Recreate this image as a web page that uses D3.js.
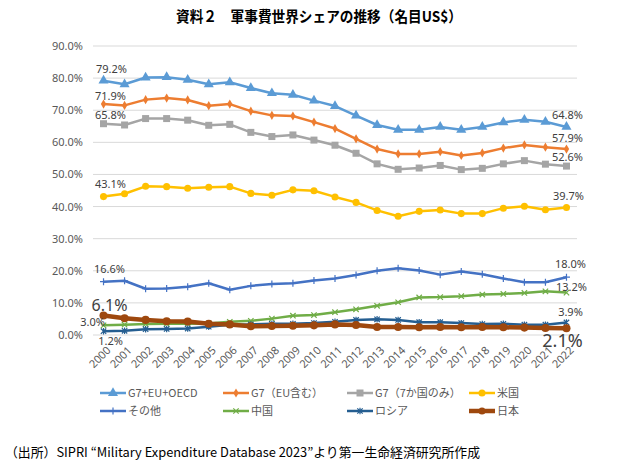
<!DOCTYPE html>
<html>
<head>
<meta charset="utf-8">
<script src="https://cdn.jsdelivr.net/npm/d3@7"></script>
<style>
  body { margin: 0; background: #fff; }
  svg { display: block; }
</style>
</head>
<body>
<svg id="chart" width="631" height="461"></svg>
<script>
// Chart data (shares in %).
const years = d3.range(2000, 2023).map(String);
const seriesNames = ["G7+EU+OECD", "G7（EU含む）", "G7（7か国のみ）", "米国", "その他", "中国", "ロシア", "日本"];
const g7EuOecd = [79.2, 78.1, 80.2, 80.3, 79.5, 78.1, 78.7, 76.9, 75.3, 74.8, 73.0, 71.3, 68.3, 65.4, 63.9, 63.9, 64.8, 63.9, 64.8, 66.2, 67.0, 66.4, 64.8];
const g7Eu = [71.9, 71.5, 73.3, 73.8, 73.2, 71.4, 71.9, 69.7, 68.4, 68.2, 66.3, 64.3, 61.1, 57.9, 56.4, 56.4, 57.1, 55.9, 56.7, 58.2, 59.2, 58.5, 57.9];
const g7Only = [65.8, 65.4, 67.4, 67.4, 66.9, 65.3, 65.6, 63.1, 61.8, 62.3, 60.7, 59.1, 56.6, 53.3, 51.6, 52.0, 52.8, 51.5, 51.9, 53.3, 54.3, 53.2, 52.6];
const usa = [43.1, 44.0, 46.3, 46.2, 45.7, 46.0, 46.2, 44.1, 43.5, 45.2, 44.9, 43.0, 41.3, 38.8, 37.0, 38.5, 38.9, 37.8, 37.8, 39.5, 40.1, 39.0, 39.7];
const others = [16.6, 16.9, 14.4, 14.5, 15.0, 16.1, 14.1, 15.3, 15.9, 16.1, 17.0, 17.6, 18.7, 20.0, 20.8, 20.1, 18.8, 19.8, 18.9, 17.6, 16.4, 16.4, 18.0];
const china = [3.0, 3.2, 3.4, 3.5, 3.5, 3.6, 4.1, 4.4, 5.1, 6.0, 6.2, 7.1, 8.0, 9.1, 10.2, 11.7, 11.8, 12.1, 12.6, 12.8, 13.1, 13.6, 13.2];
const russia = [1.2, 1.3, 1.8, 1.9, 2.0, 2.6, 3.2, 3.3, 3.5, 3.5, 3.7, 4.1, 4.7, 4.9, 4.7, 4.0, 4.0, 3.7, 3.4, 3.5, 3.2, 3.2, 3.9];
const japan = [6.1, 5.2, 4.7, 4.3, 4.2, 3.5, 3.3, 2.7, 2.8, 2.9, 3.0, 3.3, 3.1, 2.5, 2.5, 2.4, 2.5, 2.4, 2.5, 2.4, 2.3, 2.2, 2.1];
const yTicks = [0, 10, 20, 30, 40, 50, 60, 70, 80, 90];

const allValues = [g7EuOecd, g7Eu, g7Only, usa, others, china, russia, japan];
const colors = ["#5B9BD5", "#ED7D31", "#A5A5A5", "#FFC000", "#4472C4", "#70AD47", "#255E91", "#9E480E"];
const markers = ["triangle", "diamond", "square", "circle", "plus", "cross", "star", "circle"];
const widths = [2.5, 2.5, 2.5, 2.5, 2.5, 2.5, 2.5, 4.5];

const series = seriesNames.map((name, i) => ({
  name, color: colors[i], marker: markers[i], width: widths[i],
  values: allValues[i].map((v, j) => ({ year: years[j], v }))
}));

const svg = d3.select("#chart");
const jpFont = "'Noto Sans CJK JP', 'Noto Sans', sans-serif";
const numFont = "'Noto Sans', 'DejaVu Sans', sans-serif";

// Scales
const x = d3.scaleBand().domain(years).range([93, 577]);
const y = d3.scaleLinear().domain([0, 90]).range([335, 46]);
const cx = d => x(d) + x.bandwidth() / 2;

// Title
svg.append("text")
  .attr("x", 319).attr("y", 22)
  .attr("text-anchor", "middle")
  .attr("font-family", jpFont)
  .attr("font-weight", "bold")
  .attr("font-size", 15)
  .attr("textLength", 286)
  .attr("lengthAdjust", "spacingAndGlyphs")
  .attr("fill", "#000")
  .text("資料２　軍事費世界シェアの推移（名目US$）");

// Gridlines
svg.append("g")
  .selectAll("line")
  .data(yTicks)
  .join("line")
  .attr("x1", 93).attr("x2", 577)
  .attr("y1", d => y(d)).attr("y2", d => y(d))
  .attr("stroke", "#D9D9D9")
  .attr("stroke-width", 1);

// Y axis labels
const yAxis = d3.axisLeft(y).tickValues(yTicks).tickSize(0).tickPadding(10)
  .tickFormat(d => d.toFixed(1) + "%");
const yG = svg.append("g").attr("transform", "translate(93,0)").call(yAxis);
yG.select(".domain").remove();
yG.selectAll("text").attr("font-family", numFont).attr("font-size", 11).attr("fill", "#595959");

// X axis labels, rotated
const xAxis = d3.axisBottom(x).tickSize(0).tickPadding(0);
const xG = svg.append("g").attr("transform", "translate(0,335)").call(xAxis);
xG.select(".domain").remove();
xG.selectAll("text")
  .attr("font-family", numFont).attr("font-size", 11).attr("fill", "#595959")
  .attr("text-anchor", "end")
  .attr("dy", null).attr("y", null)
  .attr("transform", "translate(8,16) rotate(-45)");

// Marker drawing
function drawMarker(g, type, color, size) {
  const s = size;
  if (type === "triangle") {
    g.append("path").attr("d", d3.symbol(d3.symbolTriangle, s * s * 0.9)()).attr("fill", color);
  } else if (type === "diamond") {
    g.append("path").attr("d", d3.symbol(d3.symbolDiamond, s * s * 0.5)()).attr("fill", color);
  } else if (type === "square") {
    g.append("path").attr("d", d3.symbol(d3.symbolSquare, s * s)()).attr("fill", color);
  } else if (type === "circle") {
    g.append("path").attr("d", d3.symbol(d3.symbolCircle, s * s * 0.8)()).attr("fill", color);
  } else if (type === "plus") {
    const h = s / 2;
    g.append("path").attr("d", `M${-h},0H${h}M0,${-h}V${h}`).attr("stroke", color).attr("stroke-width", 1.2);
  } else if (type === "cross") {
    const h = s / 2.6;
    g.append("path").attr("d", `M${-h},${-h}L${h},${h}M${-h},${h}L${h},${-h}`).attr("stroke", color).attr("stroke-width", 1.2);
  } else if (type === "star") {
    const h = s / 2.6;
    g.append("path").attr("d", `M${-h},${-h}L${h},${h}M${-h},${h}L${h},${-h}M0,${-h * 1.2}V${h * 1.2}`).attr("stroke", color).attr("stroke-width", 1.2);
  }
}

// Lines and markers
const line = d3.line().x(d => cx(d.year)).y(d => y(d.v));
const plot = svg.append("g");
series.forEach(s => {
  const g = plot.append("g");
  g.append("path")
    .datum(s.values)
    .attr("d", line)
    .attr("fill", "none")
    .attr("stroke", s.color)
    .attr("stroke-width", s.width)
    .attr("stroke-linejoin", "round");
  s.values.forEach(d => {
    const m = g.append("g").attr("transform", `translate(${cx(d.year)},${y(d.v)})`);
    drawMarker(m, s.marker, s.color, s.name === "日本" ? 8 : 7);
  });
});

// Data labels: first and last point of each series
const labelFirst = [
  { i: 0, dx: 8, y: 73, size: 11 },
  { i: 1, dx: 7, y: 100, size: 11 },
  { i: 2, dx: 7, y: 119, size: 11 },
  { i: 3, dx: 7, y: 188, size: 11 },
  { i: 4, dx: 6, y: 273, size: 11 },
  { i: 7, dx: 6, y: 311, size: 16 },
  { i: 5, dx: -11, y: 326, size: 11 },
  { i: 6, dx: 7, y: 345, size: 11 }
];
const labelLast = [
  { i: 0, dx: 1, y: 119, size: 11 },
  { i: 1, dx: 1, y: 142, size: 11 },
  { i: 2, dx: 1, y: 161, size: 11 },
  { i: 3, dx: 2, y: 200, size: 11 },
  { i: 4, dx: 4, y: 268, size: 11 },
  { i: 5, dx: 5, y: 291, size: 11 },
  { i: 6, dx: 4, y: 316, size: 11 },
  { i: 7, dx: -4, y: 347, size: 18 }
];
const labels = svg.append("g");
labelFirst.forEach(l => {
  labels.append("text")
    .attr("x", cx(years[0]) + l.dx).attr("y", l.y)
    .attr("text-anchor", "middle")
    .attr("font-family", numFont).attr("font-size", l.size).attr("fill", "#404040")
    .text(allValues[l.i][0].toFixed(1) + "%");
});
labelLast.forEach(l => {
  const n = years.length - 1;
  labels.append("text")
    .attr("x", cx(years[n]) + l.dx).attr("y", l.y)
    .attr("text-anchor", "middle")
    .attr("font-family", numFont).attr("font-size", l.size).attr("fill", "#404040")
    .text(allValues[l.i][n].toFixed(1) + "%");
});

// Legend
const legendX = [100, 223, 347, 469];
const legendY = [393, 411];
const legend = svg.append("g");
series.forEach((s, i) => {
  const lx = legendX[i % 4], ly = legendY[Math.floor(i / 4)];
  const g = legend.append("g").attr("transform", `translate(${lx},${ly})`);
  g.append("line").attr("x1", 0).attr("x2", 26).attr("y1", 0).attr("y2", 0)
    .attr("stroke", s.color).attr("stroke-width", s.width);
  const m = g.append("g").attr("transform", "translate(13,0)");
  drawMarker(m, s.marker, s.color, 7);
  g.append("text")
    .attr("x", 28).attr("y", 4)
    .attr("font-family", jpFont).attr("font-size", 11).attr("fill", "#595959")
    .text(s.name);
});

// Source note
svg.append("text")
  .attr("x", 5).attr("y", 457)
  .attr("font-family", jpFont)
  .attr("font-size", 13)
  .attr("textLength", 475)
  .attr("lengthAdjust", "spacingAndGlyphs")
  .attr("fill", "#000")
  .text("（出所）SIPRI “Military Expenditure Database 2023”より第一生命経済研究所作成");
</script>
</body>
</html>
